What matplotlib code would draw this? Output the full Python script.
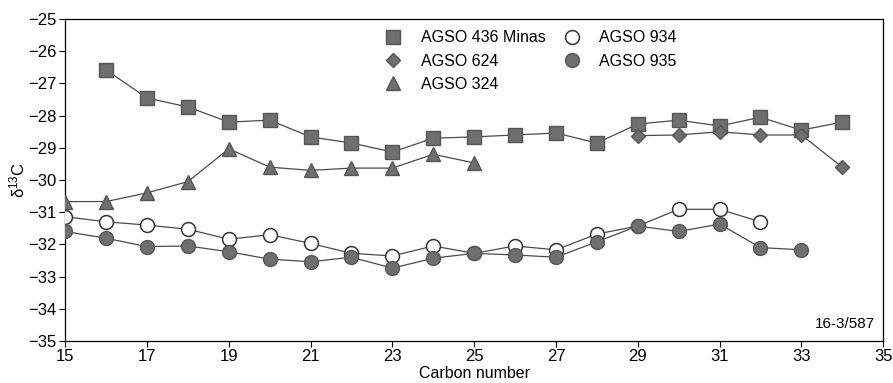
import numpy as np
import matplotlib
matplotlib.use("Agg")
import matplotlib.pyplot as plt
from matplotlib.lines import Line2D

plt.rcParams['font.family'] = ['Liberation Sans', 'DejaVu Sans']
plt.rcParams['mathtext.default'] = 'regular'

# carbon numbers and d13C values
c_436 = [16, 17, 18, 19, 20, 21, 22, 23, 24, 25, 26, 27, 28, 29, 30, 31, 32, 33, 34]
d_436 = [-26.58, -27.45, -27.73, -28.2, -28.14, -28.66, -28.85, -29.13, -28.7, -28.66,
         -28.6, -28.54, -28.85, -28.26, -28.14, -28.32, -28.05, -28.45, -28.2]

c_624 = [29, 30, 31, 32, 33, 34]
d_624 = [-28.62, -28.6, -28.5, -28.6, -28.6, -29.6]

c_324 = [15, 16, 17, 18, 19, 20, 21, 22, 23, 24, 25]
d_324 = [-30.67, -30.67, -30.4, -30.05, -29.03, -29.6, -29.7, -29.63, -29.63, -29.2, -29.47]

c_934 = [15, 16, 17, 18, 19, 20, 21, 22, 23, 24, 25, 26, 27, 28, 29, 30, 31, 32]
d_934 = [-31.14, -31.3, -31.4, -31.53, -31.84, -31.7, -31.97, -32.28, -32.36, -32.05,
         -32.28, -32.05, -32.17, -31.68, -31.43, -30.91, -30.91, -31.3]

c_935 = [15, 16, 17, 18, 19, 20, 21, 22, 23, 24, 25, 26, 27, 28, 29, 30, 31, 32, 33]
d_935 = [-31.6, -31.81, -32.07, -32.05, -32.23, -32.46, -32.54, -32.4, -32.74, -32.43,
         -32.28, -32.33, -32.4, -31.92, -31.43, -31.6, -31.37, -32.1, -32.17]

labels = ['AGSO 436 Minas', 'AGSO 624', 'AGSO 324', 'AGSO 934', 'AGSO 935']

line_col = '#4a4a4a'
fill_col = '#6f6f6f'
edge_col = '#555555'

fig = plt.figure(figsize=(8.93, 3.83), dpi=100)
ax = fig.add_axes([0.073, 0.110, 0.916, 0.840])

ax.plot(c_436, d_436, '-', color=line_col, lw=0.9, zorder=2)
ax.plot(c_436, d_436, 's', ms=10, mfc=fill_col, mec=edge_col, zorder=3)
ax.plot(c_624, d_624, '-', color=line_col, lw=0.9, zorder=2)
ax.plot(c_624, d_624, 'D', ms=7.5, mfc=fill_col, mec=edge_col, zorder=4)
ax.plot(c_324, d_324, '-', color=line_col, lw=0.9, zorder=2)
ax.plot(c_324, d_324, '^', ms=10, mfc=fill_col, mec=edge_col, zorder=3)
ax.plot(c_934, d_934, '-', color=line_col, lw=0.9, zorder=2)
ax.plot(c_934, d_934, 'o', ms=10, mfc='white', mec='#333333', mew=1.1, zorder=3)
ax.plot(c_935, d_935, '-', color=line_col, lw=0.9, zorder=2)
ax.plot(c_935, d_935, 'o', ms=10, mfc=fill_col, mec=edge_col, zorder=4)

handles = [
    Line2D([], [], ls='none', marker='s', ms=10, mfc=fill_col, mec=edge_col),
    Line2D([], [], ls='none', marker='D', ms=7.5, mfc=fill_col, mec=edge_col),
    Line2D([], [], ls='none', marker='^', ms=10, mfc=fill_col, mec=edge_col),
    Line2D([], [], ls='none', marker='o', ms=10, mfc='white', mec='#333333', mew=1.1),
    Line2D([], [], ls='none', marker='o', ms=10, mfc=fill_col, mec=edge_col),
]
ax.legend(handles, labels, ncol=2, frameon=False, fontsize=11.5,
          loc='upper left', bbox_to_anchor=(0.364, 1.01),
          handletextpad=0.75, columnspacing=0.6, labelspacing=0.52)

ax.set_xlim(15, 35)
ax.set_ylim(-35, -25)
ax.set_xticks(np.arange(15, 36, 2))
ax.set_yticks(np.arange(-35, -24, 1))
ax.tick_params(direction='out', length=4, width=0.8, labelsize=12, pad=2)
for s in ax.spines.values():
    s.set_linewidth(0.9)

ax.set_xlabel('Carbon number', fontsize=11.5, labelpad=1)
ax.set_ylabel('δ$^{13}$C', fontsize=12, labelpad=1)
ax.text(0.99, 0.03, '16-3/587', transform=ax.transAxes, ha='right', va='bottom', fontsize=11)

fig.savefig('out.png', dpi=100)
